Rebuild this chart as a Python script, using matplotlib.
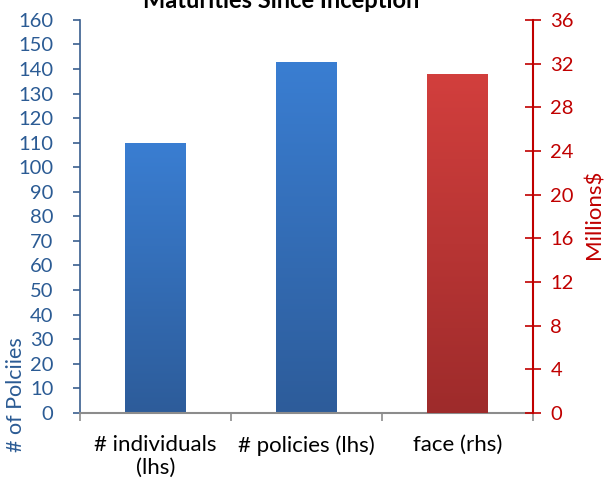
import numpy as np
import matplotlib
matplotlib.use("Agg")
import matplotlib.pyplot as plt
from matplotlib.colors import LinearSegmentedColormap

plt.rcParams['font.family'] = ['Lato', 'DejaVu Sans']

TITLE = "Maturities Since Inception"
categories = ["# individuals\n(lhs)", "# policies (lhs)", "face (rhs)"]
lhs_values = [110, 143]          # number of policies
rhs_values = [31.0]              # face, millions $
lhs_ticks = list(range(0, 161, 10))
rhs_ticks = list(range(0, 37, 4))

BLUE_TEXT = "#2B5B94"
RED = "#C00000"


def gradient_bar(ax, patch, top_color, bottom_color):
    x, y = patch.get_x(), patch.get_y()
    w, h = patch.get_width(), patch.get_height()
    cmap = LinearSegmentedColormap.from_list("g", [bottom_color, top_color])
    grad = np.linspace(0, 1, 256).reshape(-1, 1)
    im = ax.imshow(grad, cmap=cmap, aspect="auto", origin="lower",
                   extent=[x, x + w, y, y + h], zorder=2)
    im.set_clip_path(patch)
    patch.set_facecolor("none")
    patch.set_edgecolor("none")


fig = plt.figure(figsize=(6.14, 4.84), dpi=100)
ax = fig.add_axes([0.130, 0.147, 0.738, 0.812])
ax2 = ax.twinx()

pos = np.arange(len(categories)) + 0.5
bars_l = ax.bar(pos[:2], lhs_values, width=0.4, zorder=2)
bars_r = ax2.bar(pos[2:], rhs_values, width=0.4, zorder=2)

for b in bars_l:
    gradient_bar(ax, b, "#3A7ED2", "#2D5C9A")
for b in bars_r:
    gradient_bar(ax2, b, "#D23F3D", "#9E2B2B")

ax.set_xlim(0, 3)
ax.set_ylim(0, 160)
ax2.set_ylim(0, 36)
ax.set_yticks(lhs_ticks)
ax2.set_yticks(rhs_ticks)

ax.set_xticks([0, 1, 2, 3])
ax.set_xticklabels([])
ax.set_xticks(pos, minor=True)
ax.set_xticklabels(categories, minor=True, fontsize=16, color="black",
                   linespacing=1.2)
ax.tick_params(axis="x", which="major", direction="out", length=6,
               color="#8C8C8C", width=1.2)
ax.tick_params(axis="x", which="minor", length=0, pad=16)

ax.tick_params(axis="y", direction="out", length=5, color="#3A5F8F",
               labelcolor=BLUE_TEXT, labelsize=14.5, width=1.2, pad=14)
ax2.tick_params(axis="y", direction="inout", length=11, color=RED,
                labelcolor=RED, labelsize=14.5, width=1.2, pad=7)

for s in ["top", "right"]:
    ax.spines[s].set_visible(False)
ax2.spines["left"].set_visible(False)
ax2.spines["bottom"].set_visible(False)
ax2.spines["top"].set_visible(False)
ax.spines["left"].set_color("#3A5F8F")
ax.spines["left"].set_linewidth(1.2)
ax.spines["bottom"].set_color("#8C8C8C")
ax.spines["bottom"].set_linewidth(1.5)
ax2.spines["right"].set_color(RED)
ax2.spines["right"].set_linewidth(1.5)

fig.text(0.026, 0.184, "# of Polciies", rotation=90, color=BLUE_TEXT,
         fontsize=15.5, ha="center", va="center")
fig.text(0.969, 0.558, "Millions$", rotation=90, color=RED,
         fontsize=16, ha="center", va="center")
fig.text(0.458, 0.983, TITLE, fontsize=17, fontweight="bold",
         ha="center", va="baseline", color="black")

fig.savefig("out.png", dpi=100)
